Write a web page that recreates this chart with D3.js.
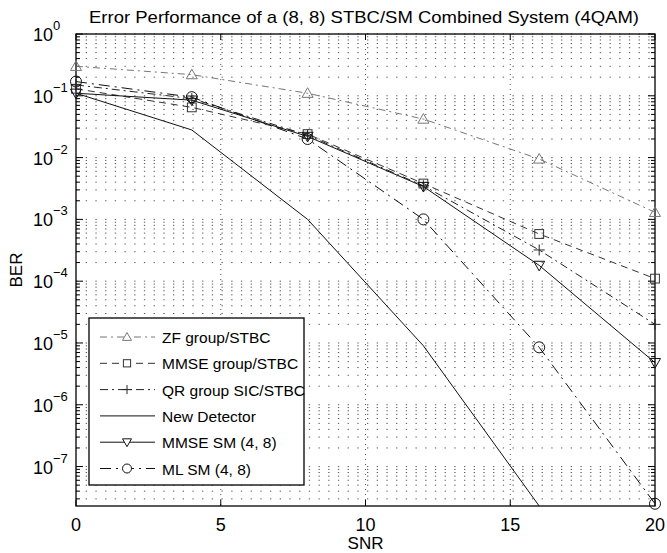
<!DOCTYPE html>
<html><head><meta charset="utf-8">
<script src="https://cdn.jsdelivr.net/npm/d3@7"></script>
<style>
body{margin:0;background:#fff;}
text{font-family:"Liberation Sans",Arial,Helvetica,sans-serif;fill:#000;}
</style></head>
<body><svg id="c" width="667" height="553"></svg>
<script>
const snr = [0, 4, 8, 12, 16, 20];
const zfGroup   = [0.30, 0.22, 0.11, 0.042, 0.0095, 0.0013];
const mmseGroup = [0.13, 0.065, 0.024, 0.0038, 0.00058, 0.00011];
const qrGroup   = [0.15, 0.09, 0.023, 0.0035, 0.00032, 0.00002];
const newDet    = [0.11, 0.028, 0.001, 0.000009, 2.3e-8];
const mmseSM    = [0.11, 0.085, 0.022, 0.0034, 0.00018, 0.0000048];
const mlSM      = [0.17, 0.095, 0.02, 0.001, 0.0000085, 2.5e-8];
const xTicks = [0, 5, 10, 15, 20];
const yExps = [0, -1, -2, -3, -4, -5, -6, -7];
const legendNames = ["ZF group/STBC", "MMSE group/STBC", "QR group SIC/STBC", "New Detector", "MMSE SM (4, 8)", "ML SM (4, 8)"];
const titleText = "Error Performance of a (8, 8) STBC/SM Combined System (4QAM)";

const series = [
  {name: legendNames[0], vals: zfGroup, dash: "7,4,2,4", color: "#777", marker: "tri"},
  {name: legendNames[1], vals: mmseGroup, dash: "7,5", color: "#333", marker: "sq"},
  {name: legendNames[2], vals: qrGroup, dash: "8,4,2,4", color: "#222", marker: "plus"},
  {name: legendNames[3], vals: newDet, dash: null, color: "#111", marker: null},
  {name: legendNames[4], vals: mmseSM, dash: null, color: "#111", marker: "tridown"},
  {name: legendNames[5], vals: mlSM, dash: "11,5,2,5", color: "#111", marker: "circ"}
];

const L = 76, R = 655, T = 34, B = 506;
const yMin = 2.3e-8;
const svg = d3.select("#c");
const x = d3.scaleLinear().domain([0, 20]).range([L, R]);
const y = d3.scaleLog().domain([yMin, 1]).range([B, T]);

svg.append("defs").append("clipPath").attr("id", "clip")
  .append("rect").attr("x", L).attr("y", T).attr("width", R - L).attr("height", B - T);

// grid
const g = svg.append("g");
const yGrid = [];
for (let e = -8; e <= 0; e++) for (let m = 1; m <= 9; m++) {
  const v = m * Math.pow(10, e);
  if (v >= yMin && v <= 1) yGrid.push(v);
}
g.selectAll(".hg").data(yGrid).join("line")
  .attr("x1", L).attr("x2", R).attr("y1", d => y(d)).attr("y2", d => y(d))
  .attr("stroke", "#555").attr("stroke-width", 1).attr("stroke-dasharray", "1.3,8.4");
g.selectAll(".vg").data([5, 10, 15]).join("line")
  .attr("x1", d => x(d)).attr("x2", d => x(d)).attr("y1", T).attr("y2", B)
  .attr("stroke", "#555").attr("stroke-width", 1).attr("stroke-dasharray", "1,4");

// axes box
svg.append("rect").attr("x", L).attr("y", T).attr("width", R - L).attr("height", B - T)
  .attr("fill", "none").attr("stroke", "#000").attr("stroke-width", 1.3);

// ticks
const ticks = svg.append("g").attr("stroke", "#000").attr("stroke-width", 1);
xTicks.forEach(t => {
  ticks.append("line").attr("x1", x(t)).attr("x2", x(t)).attr("y1", B).attr("y2", B - 6);
  ticks.append("line").attr("x1", x(t)).attr("x2", x(t)).attr("y1", T).attr("y2", T + 6);
});
yGrid.forEach(v => {
  const major = Math.abs(Math.log10(v) - Math.round(Math.log10(v))) < 1e-9;
  const len = major ? 7 : 4;
  ticks.append("line").attr("x1", L).attr("x2", L + len).attr("y1", y(v)).attr("y2", y(v));
  ticks.append("line").attr("x1", R).attr("x2", R - len).attr("y1", y(v)).attr("y2", y(v));
});

// tick labels
svg.selectAll(".xl").data(xTicks).join("text")
  .attr("x", d => x(d)).attr("y", B + 25).attr("text-anchor", "middle")
  .attr("font-size", 18).text(d => d);
yExps.forEach(e => {
  const t = svg.append("text").attr("x", 33).attr("y", y(Math.pow(10, e)) + 7).attr("font-size", 18);
  t.append("tspan").text("10");
  t.append("tspan").attr("dy", -11).attr("font-size", 13).text(e === 0 ? "0" : "\u2212" + (-e));
});

// labels
svg.append("text").attr("x", (L + R) / 2).attr("y", 549).attr("text-anchor", "middle")
  .attr("font-size", 17).text("SNR");
svg.append("text").attr("transform", `translate(22,${(T + B) / 2}) rotate(-90)`)
  .attr("text-anchor", "middle").attr("font-size", 17).text("BER");
svg.append("text").attr("x", 364).attr("y", 23).attr("text-anchor", "middle")
  .attr("font-size", 17).attr("textLength", 550).attr("lengthAdjust", "spacingAndGlyphs").text(titleText);

// markers
function drawMarker(sel, type, cx, cy, s) {
  if (type === "tri") sel.append("path").attr("d", `M${cx},${cy - s}L${cx + s},${cy + s * 0.75}L${cx - s},${cy + s * 0.75}Z`);
  else if (type === "tridown") sel.append("path").attr("d", `M${cx},${cy + s}L${cx + s},${cy - s * 0.75}L${cx - s},${cy - s * 0.75}Z`);
  else if (type === "sq") sel.append("rect").attr("x", cx - s * 0.8).attr("y", cy - s * 0.8).attr("width", s * 1.6).attr("height", s * 1.6);
  else if (type === "plus") sel.append("path").attr("d", `M${cx - s},${cy}H${cx + s}M${cx},${cy - s}V${cy + s}`);
  else if (type === "circ") sel.append("circle").attr("cx", cx).attr("cy", cy).attr("r", s);
}

const plot = svg.append("g").attr("clip-path", "url(#clip)");
const line = d3.line().x((d, i) => x(snr[i])).y(d => y(Math.max(d, 1e-9)));
series.forEach(s => {
  plot.append("path").attr("d", line(s.vals)).attr("fill", "none")
    .attr("stroke", s.color).attr("stroke-width", 1)
    .attr("stroke-dasharray", s.dash);
});
const mk = svg.append("g").attr("fill", "none").attr("stroke-width", 1);
series.forEach(s => {
  if (!s.marker) return;
  const gg = mk.append("g").attr("stroke", s.color);
  s.vals.forEach((v, i) => drawMarker(gg, s.marker, x(snr[i]), y(v), 5.5));
});

// legend
const lg = svg.append("g");
lg.append("rect").attr("x", 89).attr("y", 318).attr("width", 215).attr("height", 167)
  .attr("fill", "#fff").attr("stroke", "#000").attr("stroke-width", 1.3);
series.forEach((s, i) => {
  const ly = 337 + i * 26.3;
  lg.append("line").attr("x1", 100).attr("x2", 155).attr("y1", ly).attr("y2", ly)
    .attr("stroke", s.color).attr("stroke-width", 1).attr("stroke-dasharray", s.dash);
  if (s.marker) {
    const gg = lg.append("g").attr("fill", "#fff").attr("stroke", s.color);
    drawMarker(gg, s.marker, 127, ly, 4.5);
  }
  lg.append("text").attr("x", 162).attr("y", ly + 6).attr("font-size", 15.5).text(s.name);
});
</script></body></html>
